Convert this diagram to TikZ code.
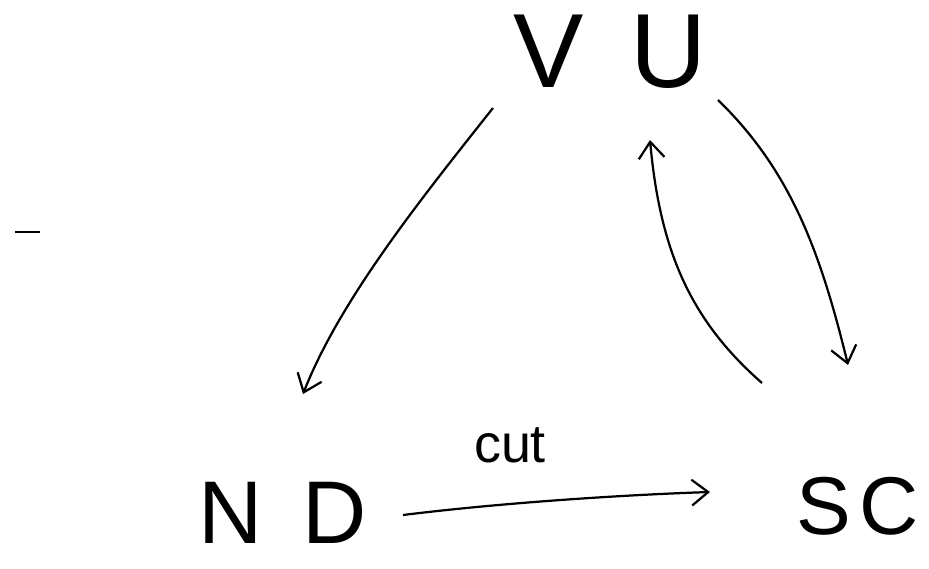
\documentclass[tikz,border=0pt]{standalone}
\usepackage{fontspec}
\setmainfont{Liberation Sans}
\usetikzlibrary{arrows.meta}
\begin{document}
\begin{tikzpicture}[x=0.03cm,y=-0.03cm,
  lbl/.style={inner sep=0pt, font=\fontsize{90}{90}\selectfont},
  conn/.style={line width=1.9pt, -{Straight Barb[length=14pt,width=22pt,line width=1.9pt]}}]
\useasboundingbox[fill=white] (0,0) rectangle (929,569);
\node[lbl] (VU) at (610,52) {V\hspace{0.45em}U};
\node[lbl, font=\fontsize{76}{76}\selectfont] (ND) at (283,513) {N\hspace{0.45em}D};
\node[lbl, font=\fontsize{70}{70}\selectfont] (SC) at (858,506) {S\hspace{0.1em}C};
\node[inner sep=0pt, font=\fontsize{46}{46}\selectfont] (cut) at (510,445) {cut};
\draw[line width=1.9pt] (15,232) -- node[inner sep=0pt] (dash) {} (40,232);
\coordinate (a1) at (493,108);
\coordinate (a2) at (303,394);
\coordinate (b1) at (718,100);
\coordinate (b2) at (848,365);
\coordinate (c1) at (762,383);
\coordinate (c2) at (650,140);
\coordinate (d1) at (403,515);
\coordinate (d2) at (710,492);
\draw[conn] (a1) .. controls (420,200) and (340,300) .. (a2);
\draw[conn] (b1) .. controls (790,170) and (820,250) .. (b2);
\draw[conn] (c1) .. controls (690,320) and (660,250) .. (c2);
\draw[conn] (d1) .. controls (500,503) and (620,495) .. (d2);
\end{tikzpicture}
\end{document}
